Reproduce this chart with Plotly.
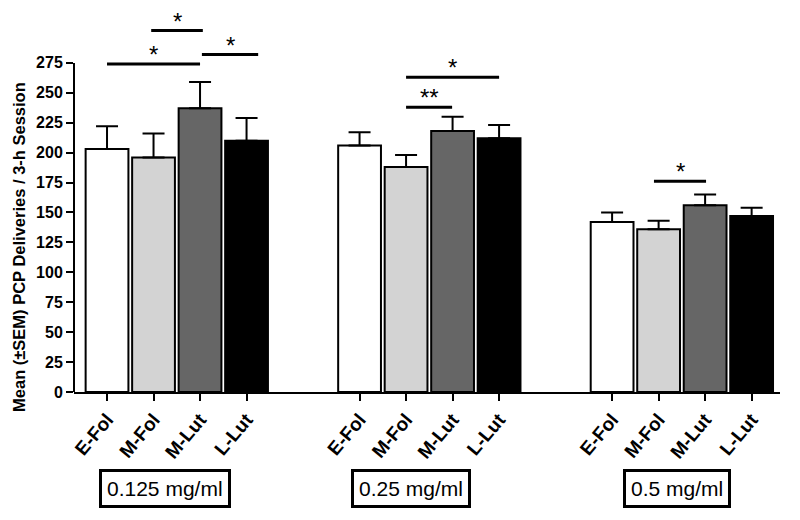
import plotly.graph_objects as go

phases = ["E-Fol", "M-Fol", "M-Lut", "L-Lut"]
doses = ["0.125 mg/ml", "0.25 mg/ml", "0.5 mg/ml"]
colors = ["white", "#d3d3d3", "#666666", "black"]

# mean deliveries per dose, one list per cycle phase
means = {
    "E-Fol": [203, 206, 142],
    "M-Fol": [196, 188, 136],
    "M-Lut": [237, 218, 156],
    "L-Lut": [210, 212, 147],
}
sems = {
    "E-Fol": [19, 11, 8],
    "M-Fol": [20, 10, 7],
    "M-Lut": [22, 12, 9],
    "L-Lut": [19, 11, 7],
}

# significance bars: dose index, start pos, end pos, height, label
sig_dose = [0, 0, 0, 1, 1, 2]
sig_start = [0.0, 0.95, 2.04, 1.0, 1.0, 0.9]
sig_end = [2.0, 2.06, 3.25, 3.0, 1.99, 2.02]
sig_y = [274, 302, 282, 263, 238, 176]
sig_text = ["*", "*", "*", "*", "**", "*"]

group_gap = 5.43
yticks = list(range(0, 276, 25))
font = "Arial, Liberation Sans"

fig = go.Figure()
for i, ph in enumerate(phases):
    xs = [g * group_gap + i for g in range(len(doses))]
    fig.add_trace(go.Bar(
        x=xs, y=means[ph], width=0.92, name=ph,
        marker=dict(color=colors[i], line=dict(color="black", width=2)),
        error_y=dict(type="data", symmetric=False, array=sems[ph],
                     arrayminus=[0] * len(doses), color="black",
                     thickness=2, width=11),
    ))

tickvals = [g * group_gap + i for g in range(len(doses)) for i in range(4)]
ticktext = phases * len(doses)

for d, s, e, y, t in zip(sig_dose, sig_start, sig_end, sig_y, sig_text):
    off = d * group_gap
    fig.add_shape(type="line", xref="x", yref="y", x0=off + s, x1=off + e,
                  y0=y, y1=y, line=dict(color="black", width=3))
    fig.add_annotation(x=off + (s + e) / 2, y=y, text=t, showarrow=False,
                       yanchor="bottom", yshift=-6,
                       font=dict(size=24, color="black", family=font))

ymax = 310
# y axis line only up to 275
fig.add_shape(type="line", xref="paper", yref="paper", x0=0, x1=0,
              y0=0, y1=275 / ymax, line=dict(color="black", width=2))

box_x = [1.25, group_gap + 1.1, 2 * group_gap + 1.4]
for bx, lab in zip(box_x, doses):
    fig.add_annotation(x=bx, y=-0.26, xref="x", yref="paper", text=lab,
                       showarrow=False, yanchor="middle", xanchor="center",
                       bordercolor="black", borderwidth=3,
                       borderpad=5, bgcolor="white",
                       font=dict(size=21, color="black", family=font))

fig.add_annotation(x=-0.077, y=0.39, xref="paper", yref="paper",
                   xanchor="center", yanchor="middle",
                   text="Mean (±SEM) PCP Deliveries / 3-h Session",
                   textangle=-90, showarrow=False,
                   font=dict(size=16.5, color="black", family=font, weight="bold"))

# page body has an 8px margin, so the figure is a bit smaller than the window
fig.update_layout(
    template="none",
    width=792, height=512,
    margin=dict(l=66, r=20, t=13, b=128),
    plot_bgcolor="white", paper_bgcolor="white",
    showlegend=False, barmode="overlay",
    xaxis=dict(range=[-0.71, 14.47], tickvals=tickvals, ticktext=ticktext,
               tickangle=-50, ticks="outside", ticklen=7, tickwidth=2,
               tickcolor="black", showline=True, linecolor="black",
               linewidth=2, showgrid=False, zeroline=False, automargin=False,
               tickfont=dict(size=19, color="black", family=font, weight="bold")),
    yaxis=dict(range=[0, ymax], tickvals=yticks, ticks="outside", ticklen=7,
               tickwidth=2, tickcolor="black", showline=False, showgrid=False,
               zeroline=False, automargin=False,
               tickfont=dict(size=16, color="black", family=font, weight="bold")),
)

fig.write_html("out.html")
